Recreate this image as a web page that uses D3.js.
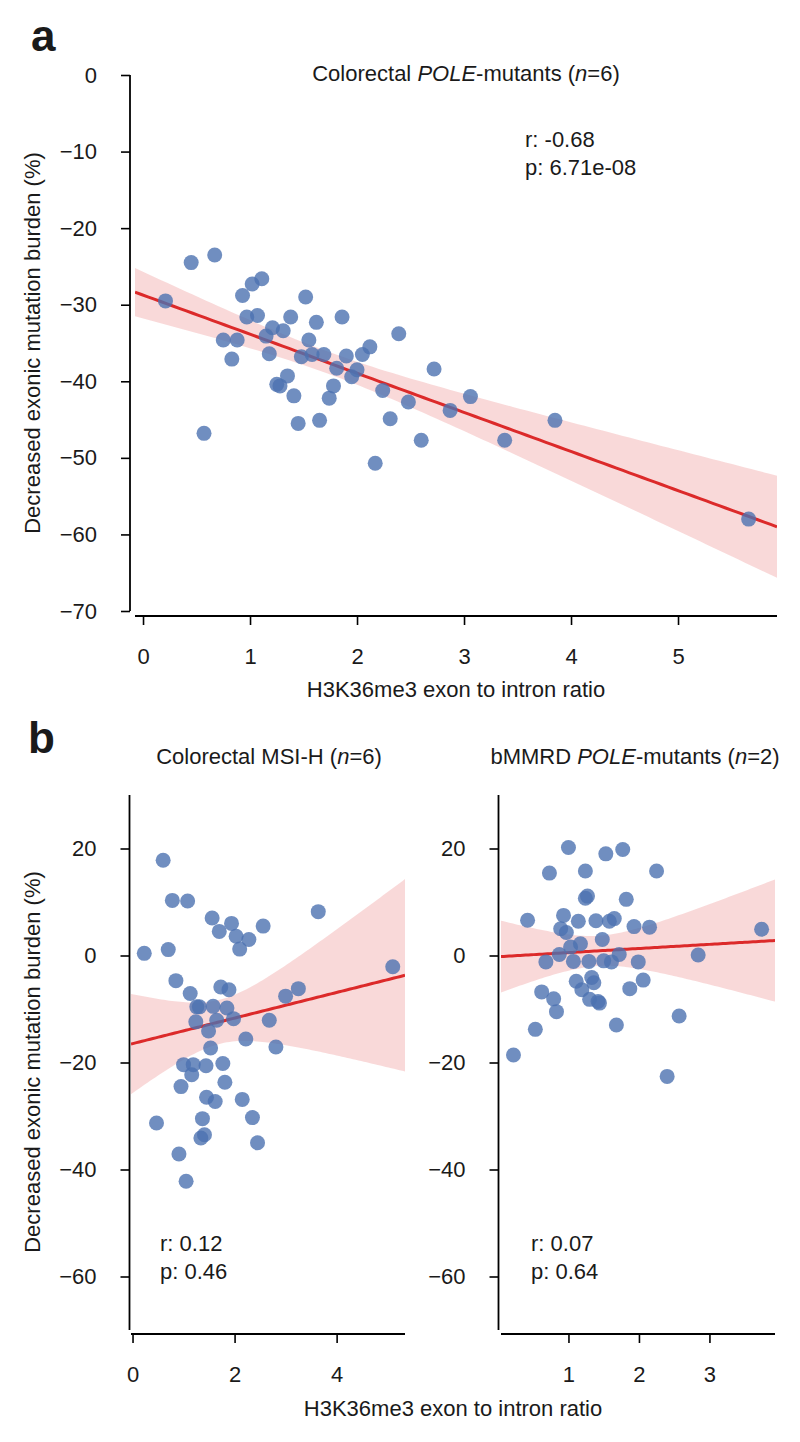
<!DOCTYPE html>
<html><head><meta charset="utf-8">
<script src="https://cdn.jsdelivr.net/npm/d3@7"></script>
<style>
body{margin:0;background:#fff}
svg text{font-family:"Liberation Sans",Arial,Helvetica,sans-serif;fill:#1a1a1a}
</style>
</head><body>
<svg id="chart" width="800" height="1442"></svg>
<script>
// ---------- data ----------
const aX = [0.21,0.45,0.67,0.57,0.93,1.02,1.11,0.97,1.07,0.75,0.88,0.83,1.21,1.31,1.15,1.18,1.38,1.52,1.62,1.55,1.48,1.58,1.69,1.86,1.81,1.90,1.95,2.00,2.05,2.12,2.39,2.24,2.48,2.72,2.87,3.06,2.31,2.60,2.17,1.25,1.28,1.35,1.41,1.45,1.65,1.78,1.74,3.38,3.85,5.66];
const aY = [-29.5,-24.5,-23.5,-46.8,-28.8,-27.3,-26.6,-31.6,-31.4,-34.6,-34.6,-37.1,-33.0,-33.4,-34.1,-36.4,-31.6,-29.0,-32.3,-34.6,-36.8,-36.5,-36.5,-31.6,-38.3,-36.7,-39.4,-38.5,-36.5,-35.5,-33.8,-41.2,-42.7,-38.4,-43.8,-42.0,-44.9,-47.7,-50.7,-40.4,-40.6,-39.3,-41.9,-45.5,-45.1,-40.6,-42.2,-47.7,-45.1,-58.0];

const bLeftX = [0.60,0.78,1.08,0.23,0.70,1.56,1.70,1.94,2.03,2.28,2.10,2.56,3.64,5.10,0.85,1.13,1.73,1.89,3.00,3.25,1.26,1.31,1.58,1.85,1.24,1.65,1.98,2.68,1.49,1.53,2.22,2.81,1.00,1.19,1.44,1.77,1.16,0.95,1.81,1.45,1.62,2.15,0.47,1.37,2.35,1.34,1.41,2.45,0.91,1.05];
const bLeftY = [17.8,10.3,10.2,0.4,1.1,7.0,4.5,6.0,3.6,3.0,1.2,5.5,8.2,-2.1,-4.7,-7.1,-5.9,-6.4,-7.6,-6.2,-9.6,-9.6,-9.5,-9.8,-12.4,-12.1,-11.8,-12.1,-14.1,-17.3,-15.6,-17.1,-20.4,-20.4,-20.6,-20.2,-22.3,-24.5,-23.7,-26.5,-27.3,-26.9,-31.3,-30.5,-30.3,-34.1,-33.5,-35.0,-37.1,-42.2];

const bRightX = [1.00,1.53,1.77,0.73,1.24,2.25,1.24,1.27,1.82,0.42,0.93,1.14,1.39,1.58,1.65,1.93,2.15,0.89,0.97,3.74,1.48,1.03,1.17,0.87,2.84,1.72,0.68,1.07,1.29,1.50,1.61,1.99,1.11,1.33,1.36,2.06,0.62,1.19,1.87,0.79,1.30,1.42,1.44,0.83,1.68,2.57,0.53,0.22,2.40];
const bRightY = [20.2,19.0,19.8,15.4,15.8,15.8,10.7,11.1,10.5,6.6,7.5,6.4,6.5,6.4,6.9,5.4,5.3,5.0,4.3,4.9,3.0,1.6,2.2,0.2,0.1,0.2,-1.2,-1.1,-1.1,-1.0,-1.2,-1.2,-4.8,-4.1,-5.1,-4.6,-6.8,-6.4,-6.2,-8.1,-8.2,-8.6,-8.9,-10.5,-13.0,-11.3,-13.8,-18.6,-22.6];

const aXTicks = [0,1,2,3,4,5];
const aYTicks = [0,-10,-20,-30,-40,-50,-60,-70];
const bLeftXTicks = [0,2,4];
const bRightXTicks = [1,2,3];
const bYTicks = [20,0,-20,-40,-60];

const aTitle = [["Colorectal ",false],["POLE",true],["-mutants (",false],["n",true],["=6)",false]];
const bLeftTitle = [["Colorectal MSI-H (",false],["n",true],["=6)",false]];
const bRightTitle = [["bMMRD ",false],["POLE",true],["-mutants (",false],["n",true],["=2)",false]];
const aStats = ["r: -0.68","p: 6.71e-08"];
const bLeftStats = ["r: 0.12","p: 0.46"];
const bRightStats = ["r: 0.07","p: 0.64"];
const xLabel = "H3K36me3 exon to intron ratio";
const yLabel = "Decreased exonic mutation burden (%)";

// ---------- style ----------
const FS = 22;
const DOT = "#4C72B0", RED = "#dc2a2a";
const fmt = d3.format("~g");

const svg = d3.select("#chart");

function regress(xs, ys, domain){
  const n = xs.length;
  const mx = d3.mean(xs), my = d3.mean(ys);
  let sxx=0, sxy=0;
  for(let i=0;i<n;i++){ sxx+=(xs[i]-mx)**2; sxy+=(xs[i]-mx)*(ys[i]-my); }
  const b = sxy/sxx, a = my - b*mx;
  let sse=0; for(let i=0;i<n;i++){ sse += (ys[i]-(a+b*xs[i]))**2; }
  const s = Math.sqrt(sse/(n-2));
  const t = 2.01;
  return d3.range(0,101).map(k=>{
    const x = domain[0] + (domain[1]-domain[0])*k/100;
    const yh = a + b*x;
    const h = t*s*Math.sqrt(1/n + (x-mx)**2/sxx);
    return {x, y:yh, lo:yh-h, hi:yh+h};
  });
}

function panel(o){
  const g = svg.append("g");
  const x = d3.scaleLinear().domain(o.xDom).range(o.xRange);
  const y = d3.scaleLinear().domain(o.yDom).range(o.yRange);
  const clipId = "clip"+o.id;
  const y0 = Math.min(...o.yRange), y1 = Math.max(...o.yRange);
  g.append("clipPath").attr("id",clipId).append("rect")
    .attr("x",o.xRange[0]).attr("y",y0).attr("width",o.xRange[1]-o.xRange[0]).attr("height",y1-y0);
  const fit = regress(o.xs, o.ys, o.xDom);
  const pg = g.append("g").attr("clip-path",`url(#${clipId})`);
  pg.append("path").datum(fit)
    .attr("d", d3.area().x(d=>x(d.x)).y0(d=>y(d.lo)).y1(d=>y(d.hi)))
    .attr("fill",RED).attr("fill-opacity",0.18);
  g.append("g").selectAll("circle").data(o.xs.map((v,i)=>[v,o.ys[i]])).join("circle")
    .attr("cx",d=>x(d[0])).attr("cy",d=>y(d[1])).attr("r",7.5)
    .attr("fill",DOT).attr("fill-opacity",0.8);
  pg.append("path").datum(fit)
    .attr("d", d3.line().x(d=>x(d.x)).y(d=>y(d.y)))
    .attr("fill","none").attr("stroke",RED).attr("stroke-width",3);

  const ya = g.append("g").attr("transform",`translate(${o.ySpineX},0)`)
    .call(d3.axisLeft(y).tickValues(o.yTicks).tickFormat(fmt).tickSize(9).tickSizeOuter(0).tickPadding(24));
  const xa = g.append("g").attr("transform",`translate(0,${o.xSpineY})`)
    .call(d3.axisBottom(x).tickValues(o.xTicks).tickFormat(fmt).tickSize(9).tickSizeOuter(0).tickPadding(23));
  [ya,xa].forEach(a=>{
    a.attr("font-size",null).attr("font-family",null);
    a.selectAll("text").style("font-size",FS+"px").attr("fill","#1a1a1a");
    a.select(".domain").attr("stroke","#000").attr("stroke-width",1.8);
    a.selectAll(".tick line").attr("stroke","#000").attr("stroke-width",1.6);
  });
  ya.select(".domain").attr("d",`M0,${o.yRange[0]}V${o.yRange[1]}`);
  xa.select(".domain").attr("d",`M${o.xRange[0]},0H${o.xRange[1]}`);

  const t = g.append("text").attr("x",o.titleX).attr("y",o.titleY)
    .attr("text-anchor","middle").style("font-size",FS+"px");
  o.title.forEach(([s,it])=>t.append("tspan").text(s).style("font-style",it?"italic":"normal"));

  o.stats.forEach((s,i)=>g.append("text").attr("x",o.statX).attr("y",o.statY+i*28)
    .style("font-size",FS+"px").text(s));
}

panel({id:"a", xs:aX, ys:aY, xDom:[-0.075,5.925], xRange:[135,777], yDom:[0,-70], yRange:[75,611],
  ySpineX:130, xSpineY:616, xTicks:aXTicks, yTicks:aYTicks,
  title:aTitle, titleX:466, titleY:81, stats:aStats, statX:525, statY:147});
panel({id:"bl", xs:bLeftX, ys:bLeftY, xDom:[-0.03,5.34], xRange:[131,405], yDom:[30,-70], yRange:[795,1330],
  ySpineX:129.5, xSpineY:1334, xTicks:bLeftXTicks, yTicks:bYTicks,
  title:bLeftTitle, titleX:269, titleY:764, stats:bLeftStats, statX:160, statY:1251});
panel({id:"br", xs:bRightX, ys:bRightY, xDom:[0.043,3.93], xRange:[501,775], yDom:[30,-70], yRange:[795,1330],
  ySpineX:498.5, xSpineY:1334, xTicks:bRightXTicks, yTicks:bYTicks,
  title:bRightTitle, titleX:635, titleY:764, stats:bRightStats, statX:531, statY:1251});

// axis titles
svg.append("text").attr("x",456).attr("y",697).attr("text-anchor","middle").style("font-size",FS+"px").text(xLabel);
svg.append("text").attr("x",453).attr("y",1416).attr("text-anchor","middle").style("font-size",FS+"px").text(xLabel);
svg.append("text").attr("transform","translate(40,343) rotate(-90)").attr("text-anchor","middle").style("font-size",FS+"px").text(yLabel);
svg.append("text").attr("transform","translate(40,1062) rotate(-90)").attr("text-anchor","middle").style("font-size",FS+"px").text(yLabel);

// panel letters
svg.append("text").attr("x",31).attr("y",51).style("font-size","44px").style("font-weight","bold").attr("fill","#000").text("a");
svg.append("text").attr("x",28).attr("y",753).style("font-size","44px").style("font-weight","bold").attr("fill","#000").text("b");
</script>
</body></html>
